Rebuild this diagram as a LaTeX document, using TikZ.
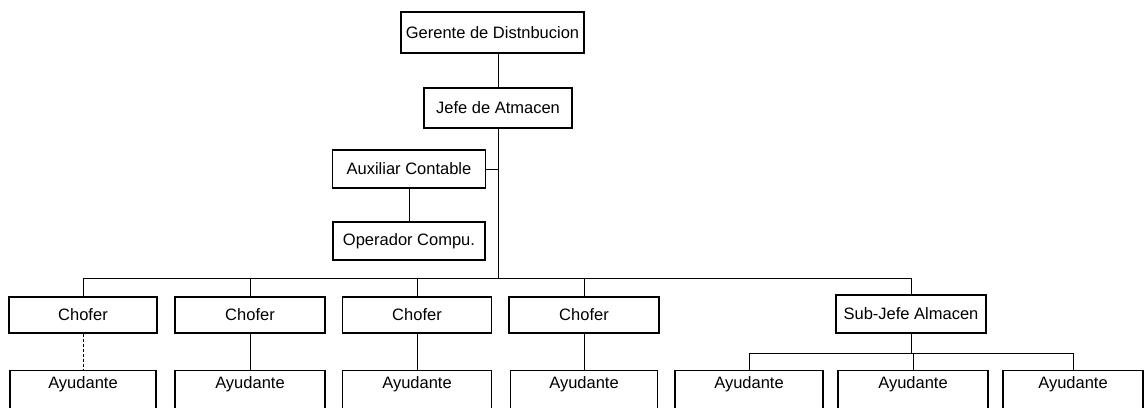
\documentclass[tikz,border=0pt]{standalone}
\usepackage{fontspec}
\setmainfont{Liberation Sans}
\begin{document}
\begin{tikzpicture}[x=1pt,y=-1pt,
  box/.style={draw, line width=1.2pt, inner sep=0pt, align=center, font=\fontsize{16.5}{19}\selectfont},
  cbox/.style={box, minimum width=150pt, minimum height=36pt},
  aybox/.style={box, anchor=north, minimum width=148pt, inner xsep=0pt, inner ysep=3pt, text height=15pt, text depth=30pt},
  conn/.style={line width=0.8pt}]
\useasboundingbox (0,0) rectangle (1145,407);
\clip (0,0) rectangle (1145,407);
% top
\node[box, minimum width=183pt, minimum height=41pt] (ger) at (492.5,32.5) {Gerente de Distnbucion};
\node[box, minimum width=148pt, minimum height=40pt] (jefe) at (498,108) {Jefe de Atmacen};
\node[box, minimum width=153pt, minimum height=38pt] (aux) at (409,169) {Auxiliar Contable};
\node[box, minimum width=152pt, minimum height=38pt] (oper) at (409,241) {Operador Compu.};
% chofer row
\node[cbox, minimum width=148pt] (ch1) at (83,315) {Chofer};
\node[cbox] (ch2) at (250,315) {Chofer};
\node[cbox, minimum width=149pt] (ch3) at (417,315) {Chofer};
\node[cbox] (ch4) at (584,315) {Chofer};
\node[box, minimum width=150pt, minimum height=38pt] (sub) at (911,314) {Sub-Jefe Almacen};
% ayudantes
\node[aybox, minimum width=146pt] (ay1) at (83,370) {Ayudante};
\node[aybox, minimum width=150pt] (ay2) at (250,370) {Ayudante};
\node[aybox, minimum width=149pt] (ay3) at (417,370) {Ayudante};
\node[aybox, minimum width=147pt] (ay4) at (584,370) {Ayudante};
\node[aybox] (ay5) at (749,370) {Ayudante};
\node[aybox, minimum width=150pt] (ay6) at (913,370) {Ayudante};
\node[aybox, minimum width=140pt] (ay7) at (1073,370) {Ayudante};
% coordinates
\coordinate (bus) at (0,278);
\coordinate (sbus) at (0,353);
% connectors
\draw[conn] (jefe.north) -- (jefe.north |- ger.south);
\draw[conn] (jefe.south) -- (jefe.south |- bus);
\draw[conn] (aux.east) -- (aux.east -| jefe.south);
\draw[conn] (aux.south) -- (oper.north);
\draw[conn] (ch1.north |- bus) -- (sub.north |- bus);
\foreach \n in {ch1,ch2,ch3,ch4,sub} {
  \draw[conn] (\n.north) -- (\n.north |- bus);
}
\draw[conn, densely dashed, line width=0.5pt] (ch1.south) -- (ay1.north);
\foreach \n in {2,3,4} {
  \draw[conn] (ch\n.south) -- (ay\n.north);
}
\draw[conn] (sub.south) -- (sub.south |- sbus);
\draw[conn] (ay5.north |- sbus) -- (ay7.north |- sbus);
\foreach \n in {ay5,ay6,ay7} {
  \draw[conn] (\n.north) -- (\n.north |- sbus);
}
\end{tikzpicture}
\end{document}
